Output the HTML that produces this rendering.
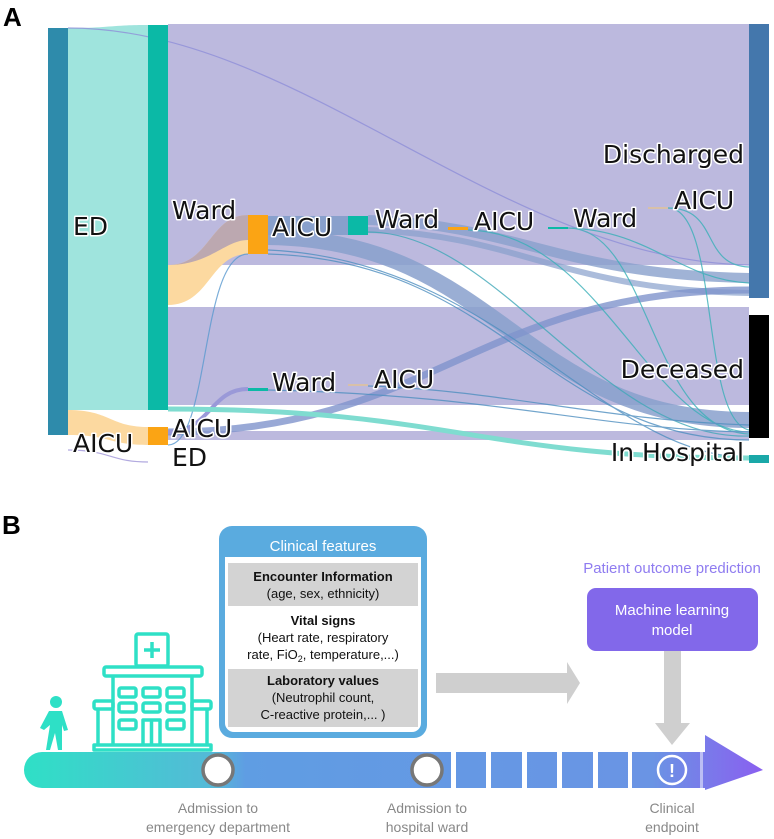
<!DOCTYPE html>
<html><head><meta charset="utf-8"><style>
html,body{margin:0;padding:0;background:#fff;}
svg{display:block;}
.lb{font-family:"DejaVu Sans",sans-serif;font-size:25px;fill:#111;paint-order:stroke;stroke:#fff;stroke-width:3px;stroke-linejoin:round;}
.nb{font-family:"Liberation Sans",sans-serif;}
</style></head><body>
<svg width="774" height="839" viewBox="0 0 774 839" xmlns="http://www.w3.org/2000/svg">
<defs>
<linearGradient id="tl" x1="0" x2="1" y1="0" y2="0">
<stop offset="0" stop-color="#2fe0c6"/><stop offset="0.26" stop-color="#55b8d8"/><stop offset="0.3" stop-color="#5f9de3"/><stop offset="0.85" stop-color="#6a94e4"/><stop offset="1" stop-color="#8a5ff0"/>
</linearGradient>
</defs>
<!-- Part A -->
<text x="3" y="26" class="nb" font-size="26" font-weight="bold">A</text>
<path d="M68 28 C110 28 110 25 148 25 L148 410 C110 410 110 410 68 410Z" fill="#9fe4dd"/>
<path d="M68 410 C110 410 110 427 148 427 L148 445 C110 445 110 435 68 435Z" fill="#fcd9a0"/>
<rect x="168" y="24" width="581" height="241" fill="#bcb9de"/>
<rect x="168" y="307" width="581" height="98" fill="#bcb9de"/>
<rect x="168" y="431" width="581" height="9" fill="#bcb9de"/>
<path d="M168 265 C210 265 210 215 248 215 L248 254 C210 254 210 305 168 305Z" fill="#fcd9a0"/>
<path d="M168 265 C210 265 210 215 248 215 L248 240 C225 240 210 265 168 265Z" fill="#bca8b0"/>
<rect x="268" y="216" width="80" height="19" fill="#88a0cc"/>
<path d="M268 237 C500 240 520 420 749 420" stroke="#88a0cc" stroke-width="16" fill="none" opacity="0.85"/>
<path d="M368 220 C520 225 560 275 749 278" stroke="#88a0cc" stroke-width="10" fill="none" opacity="0.8"/>
<path d="M368 230 C520 235 560 290 749 293" stroke="#88a0cc" stroke-width="6" fill="none" opacity="0.7"/>
<path d="M168 432 C430 432 480 290 749 290" stroke="#7f94cc" stroke-width="7" fill="none" opacity="0.8"/>
<path d="M168 432 C210 432 210 389 248 389" stroke="#9a99d8" stroke-width="4" fill="none"/>
<g fill="none" stroke-width="1.2" opacity="0.8">
<path d="M68 28 C300 28 500 260 749 265" stroke="#8f8fd8"/>
<path d="M168 445 C210 445 200 254 248 254" stroke="#5b9ad0"/>
<path d="M68 450 C110 450 110 462 148 462" stroke="#9f95d8"/>
<path d="M268 254 C500 260 550 440 749 440" stroke="#4f8fc0"/>
<path d="M268 250 C500 260 600 455 749 458" stroke="#4f8fc0"/>
<path d="M368 232 C500 232 600 440 749 436" stroke="#40a8b8"/>
<path d="M468 230 C600 232 650 430 749 432" stroke="#3ab0b8"/>
<path d="M568 228 C650 228 650 430 749 434" stroke="#3ab0b8"/>
<path d="M568 228 C650 230 680 280 749 283" stroke="#3ab0b8"/>
<path d="M668 208 C720 208 700 265 749 267" stroke="#3ab0b8"/>
<path d="M668 208 C720 208 700 420 749 430" stroke="#3ab0b8"/>
<path d="M368 386 C500 390 600 420 749 425" stroke="#4f8fc0"/>
<path d="M268 390 C500 395 600 430 749 432" stroke="#4f8fc0"/>
</g>
<path d="M168 409 C450 409 480 458 749 458" stroke="#7fdcd0" stroke-width="5" fill="none"/>
<rect x="48" y="28" width="20" height="407" fill="#2e8bab"/>
<rect x="148" y="25" width="20" height="385" fill="#0bb9a6"/>
<rect x="148" y="427" width="20" height="18" fill="#fba414"/>
<rect x="248" y="215" width="20" height="39" fill="#fba414"/>
<rect x="348" y="216" width="20" height="19" fill="#0bb9a6"/>
<rect x="448" y="227" width="20" height="3" fill="#fba414"/>
<rect x="548" y="227" width="20" height="2" fill="#0bb9a6"/>
<rect x="648" y="207" width="20" height="2" fill="#d8c0a8"/>
<rect x="248" y="388" width="20" height="3" fill="#0bb9a6"/>
<rect x="348" y="384" width="20" height="2" fill="#d8c0a8"/>
<rect x="749" y="24" width="20" height="274" fill="#4477ac"/>
<rect x="749" y="315" width="20" height="123" fill="#000"/>
<rect x="749" y="455" width="20" height="8" fill="#1aa8a8"/>
<text class="lb" x="73" y="235">ED</text>
<text class="lb" x="172" y="219">Ward</text>
<text class="lb" x="272" y="236">AICU</text>
<text class="lb" x="375" y="228">Ward</text>
<text class="lb" x="474" y="230">AICU</text>
<text class="lb" x="573" y="227">Ward</text>
<text class="lb" x="674" y="209">AICU</text>
<text class="lb" x="744" y="163" text-anchor="end">Discharged</text>
<text class="lb" x="744" y="378" text-anchor="end">Deceased</text>
<text class="lb" x="744" y="461" text-anchor="end">In Hospital</text>
<text class="lb" x="272" y="391">Ward</text>
<text class="lb" x="374" y="388">AICU</text>
<text class="lb" x="73" y="452">AICU</text>
<text class="lb" x="172" y="437">AICU</text>
<text class="lb" x="172" y="466">ED</text>

<!-- Part B -->
<text x="2" y="534" class="nb" font-size="26" font-weight="bold">B</text>
<path d="M42 752 L705 752 L705 735 L763 770 L705 790 L705 788 L42 788 A18 18 0 0 1 42 752Z" fill="url(#tl)"/>
<g fill="#fff">
<rect x="451" y="752" width="5" height="36"/><rect x="486" y="752" width="5" height="36"/><rect x="522" y="752" width="5" height="36"/><rect x="557" y="752" width="5" height="36"/><rect x="593" y="752" width="5" height="36"/><rect x="628" y="752" width="4" height="36"/><rect x="700" y="752" width="3" height="36" opacity="0.5"/>
</g>
<circle cx="218" cy="770" r="15" fill="#fff" stroke="#777" stroke-width="3.5"/>
<circle cx="427" cy="770" r="15" fill="#fff" stroke="#777" stroke-width="3.5"/>
<circle cx="672" cy="770" r="14" fill="none" stroke="#fff" stroke-width="2.5"/>
<text x="672" y="777" text-anchor="middle" class="nb" font-size="18" font-weight="bold" fill="#fff">!</text>
<g fill="#2ee0c6">
<circle cx="56" cy="702" r="6"/>
<path d="M49 711 L62 711 L68 730 L64 731 L62 725 L62 750 L58 750 L55 733 L50 750 L46 750 L50 725 L44 730 L40 728Z"/>
</g>
<g fill="none" stroke="#2ee0c6" stroke-width="3.5" stroke-linejoin="round">
<rect x="136" y="634" width="32" height="32" rx="2"/>
<path d="M152 642 V658 M144 650 H160"/>
<rect x="104" y="667" width="98" height="9" rx="2"/>
<path d="M113 676 V745 M192 676 V745"/>
<rect x="94" y="701" width="19" height="8" rx="2"/><rect x="192" y="701" width="19" height="8" rx="2"/>
<path d="M98 709 V745 M207 709 V745"/>
<rect x="94" y="745" width="117" height="5"/>
<rect x="119" y="688" width="17" height="9" rx="2"/><rect x="143" y="688" width="17" height="9" rx="2"/><rect x="167" y="688" width="17" height="9" rx="2"/>
<rect x="119" y="703" width="17" height="9" rx="2"/><rect x="143" y="703" width="17" height="9" rx="2"/><rect x="167" y="703" width="17" height="9" rx="2"/>
<rect x="119" y="720" width="17" height="9" rx="2"/><rect x="167" y="720" width="17" height="9" rx="2"/>
<path d="M143 745 V720 H160 V745 M151.5 720 V745"/>
</g>
<rect x="219" y="526" width="208" height="212" rx="13" fill="#5aabdf"/>
<rect x="225" y="557" width="196" height="175" rx="9" fill="#fff"/>
<rect x="225" y="557" width="196" height="10" fill="#fff"/>
<text x="323" y="551" text-anchor="middle" class="nb" font-size="15" fill="#fff">Clinical features</text>
<rect x="228" y="563" width="190" height="43" fill="#d3d3d3"/>
<rect x="228" y="669" width="190" height="58" fill="#d3d3d3"/>
<g class="nb" font-size="13" fill="#111" text-anchor="middle">
<text x="323" y="581" font-weight="bold">Encounter Information</text>
<text x="323" y="598">(age, sex, ethnicity)</text>
<text x="323" y="625" font-weight="bold">Vital signs</text>
<text x="323" y="642">(Heart rate, respiratory</text>
<text x="323" y="659">rate, FiO<tspan font-size="9" dy="3">2</tspan><tspan dy="-3">, temperature,...)</tspan></text>
<text x="323" y="685" font-weight="bold">Laboratory values</text>
<text x="323" y="702">(Neutrophil count,</text>
<text x="323" y="719">C-reactive protein,... )</text>
</g>
<path d="M436 673 L567 673 L567 662 L580 683 L567 704 L567 693 L436 693Z" fill="#cfcfcf"/>
<path d="M664 637 L681 637 L681 723 L690 723 L672 745 L655 723 L664 723Z" fill="#cfcfcf"/>
<text x="672" y="573" text-anchor="middle" class="nb" font-size="15" fill="#8f7cf0">Patient outcome prediction</text>
<rect x="587" y="588" width="171" height="63" rx="9" fill="#8268ea"/>
<text x="672" y="615" text-anchor="middle" class="nb" font-size="15" fill="#fff">Machine learning</text>
<text x="672" y="635" text-anchor="middle" class="nb" font-size="15" fill="#fff">model</text>
<g class="nb" font-size="14" fill="#888" text-anchor="middle">
<text x="218" y="813">Admission to</text><text x="218" y="832">emergency department</text>
<text x="427" y="813">Admission to</text><text x="427" y="832">hospital ward</text>
<text x="672" y="813">Clinical</text><text x="672" y="832">endpoint</text>
</g>
</svg>
</body></html>
